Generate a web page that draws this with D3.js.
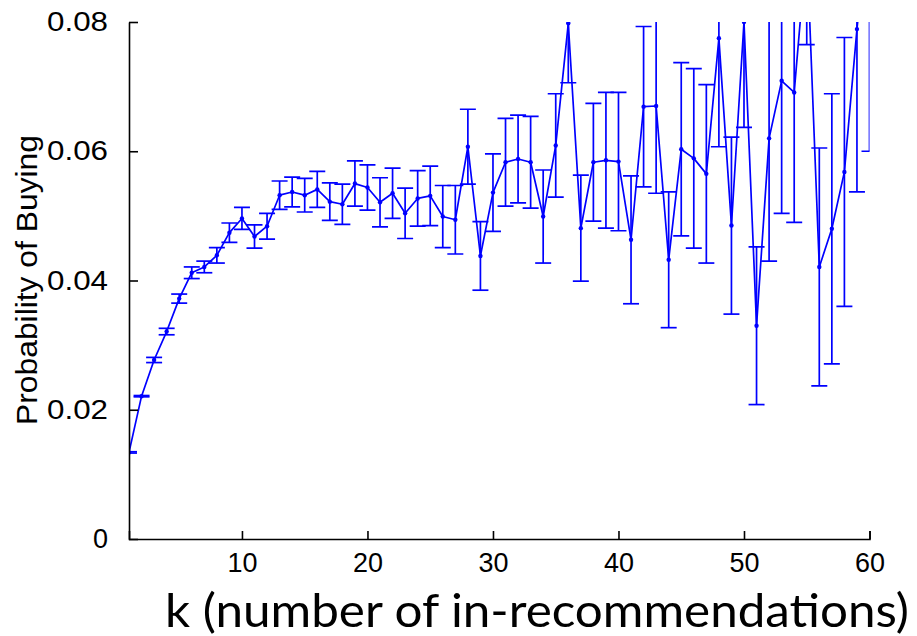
<!DOCTYPE html>
<html>
<head>
<meta charset="utf-8">
<script src="https://cdn.jsdelivr.net/npm/d3@7"></script>
<style>
  html, body { margin: 0; padding: 0; background: #fff; }
  svg { display: block; }
</style>
</head>
<body>
<svg id="chart" width="917" height="636"></svg>
<script>
// ---- Data ----
const kValues = d3.range(1, 61);
const probBuying = [
  0.0134, 0.0221, 0.0277, 0.0321, 0.0372, 0.0412, 0.0421, 0.0439, 0.0474, 0.0496,
  0.0468, 0.0484, 0.0532, 0.0537, 0.0532, 0.0541, 0.0522, 0.0518, 0.0550, 0.0544,
  0.0521, 0.0535, 0.0504, 0.0527, 0.0531, 0.0499, 0.0494, 0.0607, 0.0438, 0.0536,
  0.0583, 0.0588, 0.0583, 0.0499, 0.0609, 0.0798, 0.0481, 0.0583, 0.0586, 0.0584,
  0.0463, 0.0669, 0.0670, 0.0432, 0.0603, 0.0589, 0.0565, 0.0775, 0.0485, 0.0800,
  0.0330, 0.0620, 0.0709, 0.0691, 0.0920, 0.0421, 0.0480, 0.0568, 0.0789, 0.0980
];
const stdError = [
  0.0001, 0.0001, 0.0004, 0.0005, 0.0007, 0.0009, 0.0009, 0.0012, 0.0015, 0.0017,
  0.0018, 0.0020, 0.0022, 0.0023, 0.0026, 0.0028, 0.0029, 0.0031, 0.0035, 0.0035,
  0.0038, 0.0039, 0.0039, 0.0043, 0.0046, 0.0048, 0.0053, 0.0058, 0.0053, 0.0060,
  0.0068, 0.0068, 0.0071, 0.0072, 0.0080, 0.0092, 0.0082, 0.0091, 0.0105, 0.0107,
  0.0099, 0.0124, 0.0135, 0.0105, 0.0134, 0.0139, 0.0138, 0.0168, 0.0137, 0.0163,
  0.0122, 0.0190, 0.0205, 0.0201, 0.0155, 0.0184, 0.0209, 0.0208, 0.0252, 0.0380
];
const xTicks = [10, 20, 30, 40, 50, 60];
const yTicks = [0, 0.02, 0.04, 0.06, 0.08];
const yTickLabels = ["0", "0.02", "0.04", "0.06", "0.08"];
const xTitle = "k (number of in-recommendations)";
const yTitle = "Probability of Buying";

(function () {
  const data = kValues.map((k, i) => ({ k, v: probBuying[i], e: stdError[i] }));

  // ---- Layout ----
  const svg = d3.select("#chart");
  const pL = 129, pR = 869.5, pT = 22, pB = 539;
  const x = d3.scaleLinear().domain([1, 60]).range([pL, pR]);
  const y = d3.scaleLinear().domain([0, 0.08]).range([pB, pT]);
  const blue = "#0000ff";
  const capHalf = 8;

  svg.append("defs").append("clipPath").attr("id", "plotclip")
    .append("rect").attr("x", pL).attr("y", pT)
    .attr("width", pR - pL).attr("height", pB - pT);

  const plot = svg.append("g").attr("clip-path", "url(#plotclip)");

  // Error bars
  const eb = plot.append("g").attr("stroke", blue).attr("stroke-width", 1.7).attr("fill", "none");
  data.forEach(d => {
    const yt = y(d.v + d.e), yb = y(d.v - d.e), xc = x(d.k);
    eb.append("line").attr("x1", xc).attr("x2", xc).attr("y1", yt).attr("y2", yb);
    eb.append("line").attr("x1", xc - capHalf).attr("x2", xc + capHalf).attr("y1", yt).attr("y2", yt);
    eb.append("line").attr("x1", xc - capHalf).attr("x2", xc + capHalf).attr("y1", yb).attr("y2", yb);
  });

  // Line
  plot.append("path").datum(data)
    .attr("fill", "none").attr("stroke", blue).attr("stroke-width", 1.7)
    .attr("stroke-linejoin", "round")
    .attr("d", d3.line().x(d => x(d.k)).y(d => y(d.v)));

  // Markers
  plot.append("g").selectAll("circle").data(data).join("circle")
    .attr("cx", d => x(d.k)).attr("cy", d => y(d.v)).attr("r", 2.2)
    .attr("fill", blue);

  // Axes
  const xAxis = d3.axisBottom(x).tickValues(xTicks).tickSizeInner(-8).tickSizeOuter(-8)
    .tickPadding(14).tickFormat(d3.format("d"));
  const gx = svg.append("g").attr("transform", `translate(0,${pB})`).call(xAxis);
  const yAxis = d3.axisLeft(y).tickValues(yTicks).tickSizeInner(-9).tickSizeOuter(0).tickPadding(21)
    .tickFormat((d, i) => yTickLabels[i]);
  const gy = svg.append("g").attr("transform", `translate(${pL},0)`).call(yAxis);

  [gx, gy].forEach(g => {
    g.select(".domain").attr("stroke", "#000").attr("stroke-width", 1.6);
    g.selectAll(".tick line").attr("stroke", "#000").attr("stroke-width", 1.6);
    g.selectAll("text").attr("font-family", "Liberation Sans, Arial, sans-serif")
      .attr("font-size", 27).attr("fill", "#000");
  });
  gx.selectAll(".tick text").attr("textLength", 30).attr("lengthAdjust", "spacingAndGlyphs");
  gy.selectAll(".tick text").each(function () {
    const t = d3.select(this);
    if (t.text().length > 1) t.attr("textLength", 61).attr("lengthAdjust", "spacingAndGlyphs");
  });

  // Titles
  svg.append("text")
    .attr("x", 537).attr("y", 627)
    .attr("text-anchor", "middle")
    .attr("font-family", "Lato, 'Open Sans', sans-serif")
    .attr("font-size", 47)
    .attr("textLength", 744).attr("lengthAdjust", "spacingAndGlyphs")
    .attr("fill", "#000")
    .text(xTitle);

  svg.append("text")
    .attr("transform", "translate(37,280) rotate(-90)")
    .attr("text-anchor", "middle")
    .attr("font-family", "Liberation Sans, Arial, sans-serif")
    .attr("font-size", 29)
    .attr("textLength", 290).attr("lengthAdjust", "spacingAndGlyphs")
    .attr("fill", "#000")
    .text(yTitle);
})();
</script>
</body>
</html>
